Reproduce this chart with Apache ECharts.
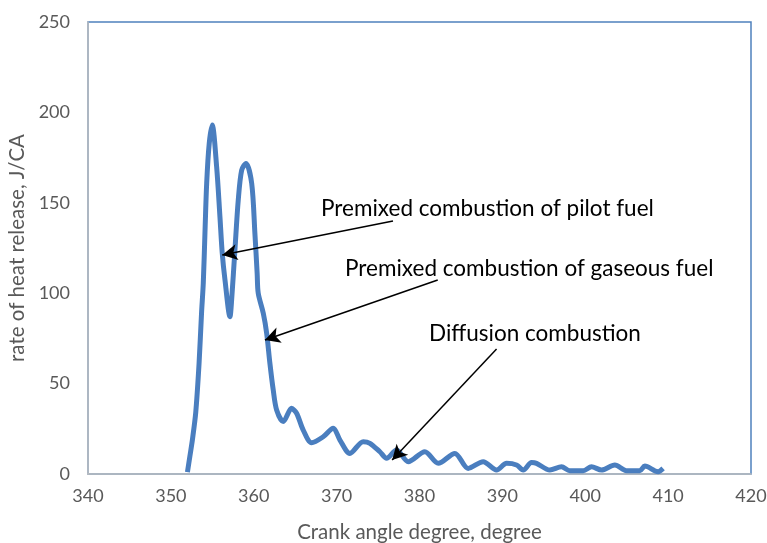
<!DOCTYPE html>
<html>
<head>
<meta charset="utf-8">
<script src="https://cdn.jsdelivr.net/npm/echarts@6/dist/echarts.min.js"></script>
<style>
  html, body { margin: 0; padding: 0; background: #fff; }
  #chart { width: 767px; height: 543px; }
</style>
</head>
<body>
<div id="chart"></div>
<script>
// crank angle (degree) and rate of heat release (J/CA)
const crankAngle = [
  352.0, 352.3, 352.6, 353.0, 353.4, 353.7, 353.91, 354.11, 354.32, 354.63, 354.99,
  355.52, 355.92, 356.2, 356.53, 357.13, 357.33, 357.73, 358.13, 358.54, 359.06,
  359.75, 360.14, 360.41, 360.54, 361.15, 361.56, 361.95, 362.35, 362.76, 363.56,
  364.57, 365.17, 365.97, 366.98, 368.38, 369.59, 370.4, 371.6, 373.21, 374.02,
  375.22, 376.03, 377.24, 378.64, 380.65, 382.26, 384.27, 385.87, 387.68, 389.3,
  390.51, 391.71, 392.51, 393.52, 394.12, 395.73, 397.14, 398.14, 399.75, 400.75,
  401.96, 403.57, 404.97, 406.58, 407.19, 408.79, 409.39
]
const heatRelease = [
  1, 10, 19, 34, 61, 89, 105.5, 133, 160.8, 182.9, 193,
  170, 142.3, 122, 107.3, 87, 96.2, 124, 151.5, 168, 171.8,
  160.8, 133, 111, 100, 88.9, 77.8, 61.2, 46.5, 35.4, 29,
  36.3, 33.6, 24.3, 17.3, 20.6, 25.3, 18.8, 11.4, 17.9, 17,
  12.3, 8.7, 13.3, 6.8, 12.3, 5.9, 11.4, 3.1, 6.8, 2.2,
  5.9, 5.0, 2.2, 6.3, 5.9, 2.2, 4.0, 1.8, 1.8, 4.0,
  2.2, 5.0, 1.8, 1.8, 4.4, 1.3, 3.1
]

// annotation texts and arrows [from, to] in data units
const noteTexts = [
  'Premixed combustion of pilot fuel',
  'Premixed combustion of gaseous fuel',
  'Diffusion combustion'
]
const noteArrows = [
  [[376.8, 139.9], [356.2, 121.1]],
  [[382.2, 107.3], [361.35, 74.1]],
  [[389.3, 69.1], [376.7, 7.7]]
]
const notePos = [[321, 197], [345, 257], [429, 322]]

const font = 'Lato'
const chart = echarts.init(document.getElementById('chart'))

const option = {
  animation: false,
  grid: {
    left: 88,
    right: 16,
    top: 22,
    bottom: 69,
    outerBoundsMode: 'none',
    containLabel: false,
    show: true,
    borderColor: '#4f81bd',
    borderWidth: 1.5
  },
  xAxis: {
    type: 'value',
    min: 340,
    max: 420,
    interval: 10,
    name: 'Crank angle degree, degree',
    nameLocation: 'middle',
    nameGap: 48,
    nameTextStyle: { color: '#595959', fontSize: 20.5, fontFamily: font },
    axisLine: { show: true, lineStyle: { color: '#bfbfbf', width: 1.5 } },
    axisTick: { show: false },
    splitLine: { show: false },
    axisLabel: { color: '#595959', fontSize: 18, fontFamily: font, margin: 13 }
  },
  yAxis: {
    type: 'value',
    min: 0,
    max: 250,
    interval: 50,
    name: 'rate of heat release, J/CA',
    nameLocation: 'middle',
    nameGap: 57,
    nameTextStyle: { color: '#595959', fontSize: 20.5, fontFamily: font },
    axisLine: { show: true, lineStyle: { color: '#bfbfbf', width: 1.5 } },
    axisTick: { show: false },
    splitLine: { show: false },
    axisLabel: { color: '#595959', fontSize: 18, fontFamily: font, margin: 18 }
  },
  series: [{
    type: 'line',
    data: crankAngle.map((x, i) => [x, heatRelease[i]]),
    showSymbol: false,
    smooth: 0.3,
    lineStyle: { color: '#4a7ebf', width: 5 },
    markLine: {
      silent: true,
      symbol: ['none', 'arrow'],
      symbolSize: [12, 15],
      label: { show: false },
      lineStyle: { color: '#000', width: 1.5, type: 'solid' },
      data: noteArrows.map(a => [{ coord: a[0] }, { coord: a[1] }])
    }
  }],
  graphic: noteTexts.map((t, i) => ({
    type: 'text',
    left: notePos[i][0],
    top: notePos[i][1],
    style: { text: t, fill: '#000', fontSize: 22.5, fontFamily: font }
  }))
}

chart.setOption(option)
</script>
</body>
</html>
